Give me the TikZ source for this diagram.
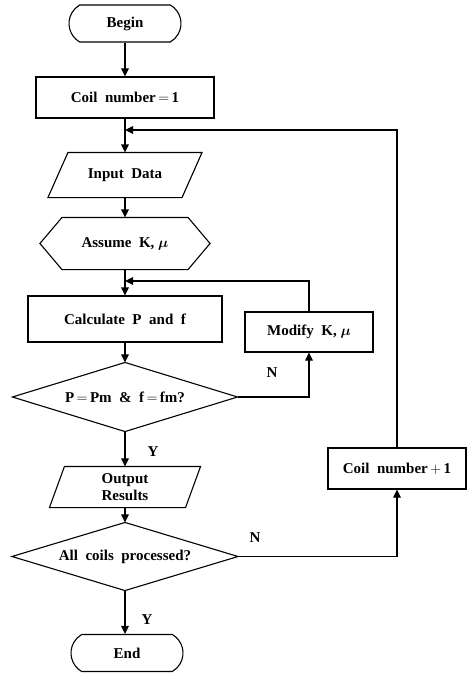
\documentclass[tikz,border=0pt]{standalone}
\usepackage{fontspec}
\usepackage{amsmath}
\setmainfont{Liberation Serif}
\usetikzlibrary{arrows.meta,shapes.misc,calc}
\begin{document}
\begin{tikzpicture}[x=1pt,y=-1pt,
  line width=1.1pt,
  every node/.style={font=\fontsize{15}{16.5}\selectfont\bfseries, align=center, inner sep=0pt},
  box/.style={draw, rectangle, minimum width=#1},
  frame/.style={rectangle, minimum width=#1},
  term/.style={draw, rounded rectangle, rounded rectangle arc length=120, minimum width=112pt, minimum height=37pt},
  arr/.style={-{Triangle[length=8pt,width=7.5pt]}},
  lab/.style={font=\fontsize{15}{16}\selectfont\bfseries}
]
\useasboundingbox (0,0) rectangle (467,677);

% nodes
\node[term] (begin) at (125,23.5) {Begin};
\node[box=178pt, minimum height=41pt] (c1) at (125,97.5) {Coil\ \ number$\,=\,$1};
\node[frame=153pt, minimum height=44pt] (inp) at (125,175) {Input\ \ Data};
\draw ([xshift=20pt]inp.north west) -- (inp.north east) -- ([xshift=-20pt]inp.south east) -- (inp.south west) -- cycle;
\node[frame=169pt, minimum height=51pt] (asm) at (125,243.5) {Assume\ \ K,\ $\boldsymbol{\mu}$};
\draw ([xshift=22pt]asm.north west) -- ([xshift=-22pt]asm.north east) -- (asm.east) -- ([xshift=-22pt]asm.south east) -- ([xshift=22pt]asm.south west) -- (asm.west) -- cycle;
\node[box=194pt, minimum height=46pt] (calc) at (125,319) {Calculate\ \ P\ \ and\ \ f};
\node[frame=224pt, minimum height=68pt] (d1) at (125,397) {P$\,=\,$Pm\ \ \&\ \ f$\,=\,$fm?};
\draw (d1.north) -- (d1.east) -- (d1.south) -- (d1.west) -- cycle;
\node[box=128pt, minimum height=40pt] (mod) at (309,332) {Modify\ \ K,\ $\boldsymbol{\mu}$};
\node[frame=150pt, minimum height=40pt] (out) at (125,487) {Output\\Results};
\draw ([xshift=15pt]out.north west) -- (out.north east) -- ([xshift=-15pt]out.south east) -- (out.south west) -- cycle;
\node[frame=225pt, minimum height=67pt] (d2) at (125,556.5) {All\ \ coils\ \ processed?};
\draw (d2.north) -- (d2.east) -- (d2.south) -- (d2.west) -- cycle;
\node[box=138pt, minimum height=41pt] (cp) at (397,468.5) {Coil\ \ number$\,+\,$1};
\node[term] (end) at (127,653) {End};

\coordinate (j1) at (125,130);
\coordinate (j2) at (125,281);

% connectors
\draw[arr] (begin.south) -- (c1.north);
\draw[arr] (c1.south) -- (inp.north);
\draw[arr] (cp.north) |- (j1);
\draw[arr] (inp.south) -- (asm.north);
\draw[arr] (asm.south) -- (calc.north);
\draw[arr] (mod.north) |- (j2);
\draw[arr] (calc.south) -- (d1.north);
\draw[arr] (d1.east) -| (mod.south);
\draw[arr] (d1.south) -- (out.north);
\draw[arr] (out.south) -- (d2.north);
\draw[arr] (d2.east) -| (cp.south);
\draw[arr] (d2.south) -- (end.north -| d2.south);

% labels
\node[lab] (n1) at (272,373) {N};
\node[lab] (y1) at (153,452) {Y};
\node[lab] (n2) at (255,538) {N};
\node[lab] (y2) at (147,620) {Y};
\end{tikzpicture}
\end{document}
